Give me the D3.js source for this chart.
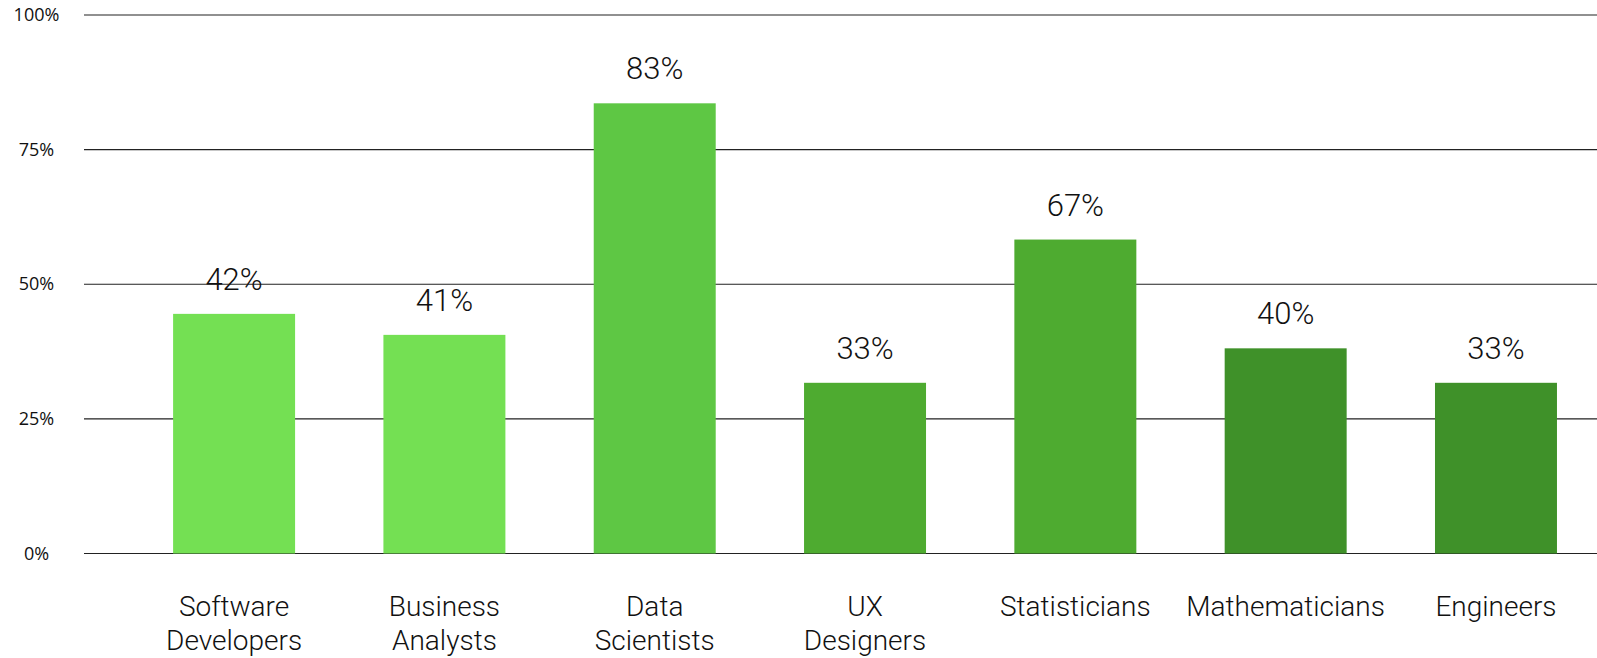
<!DOCTYPE html>
<html>
<head>
<meta charset="utf-8">
<script src="https://cdn.jsdelivr.net/npm/d3@7"></script>
<style>
  body { margin: 0; background: #fff; }
  #chart text { fill: #111; }
</style>
</head>
<body>
<div id="chart"></div>
<script>
let categories = ['Software Developers', 'Business Analysts', 'Data Scientists', 'UX Designers',
  'Statisticians', 'Mathematicians', 'Engineers'];
// bar heights as drawn (percent)
let barValues = [44.5, 40.6, 83.6, 31.7, 58.3, 38.1, 31.7];
// value printed above each bar
let labelValues = [42, 41, 83, 33, 67, 40, 33];
let barColors = ['#74e053', '#74e053', '#5ec744', '#4eab30', '#4eab30', '#3f9129', '#3f9129'];
let yTicks = [0, 25, 50, 75, 100];

let width = 1597;
let height = 658;

let svg = d3.select('#chart')
  .append('svg')
  .attr('width', width)
  .attr('height', height);

let x = d3.scaleBand()
  .domain(categories)
  .range([84, width])
  .paddingInner(0.42)
  .paddingOuter(0.307)
  .align(0.69);

let y = d3.scaleLinear()
  .domain([0, 100])
  .range([553.5, 15]);

// grid lines + tick labels
let grid = svg.append('g')
  .selectAll('g')
  .data(yTicks)
  .enter()
  .append('g')
  .attr('transform', d => 'translate(0,' + y(d) + ')');

grid.append('line')
  .attr('x1', 84)
  .attr('x2', width)
  .attr('stroke', '#222')
  .attr('stroke-width', 1.2);

grid.append('text')
  .attr('x', 36.5)
  .attr('y', 6)
  .attr('text-anchor', 'middle')
  .style('font-family', '"Open Sans", sans-serif')
  .style('font-size', '18px')
  .text(d => d + '%');

// bars
svg.append('g')
  .selectAll('rect')
  .data(categories)
  .enter()
  .append('rect')
  .attr('x', d => x(d))
  .attr('width', x.bandwidth())
  .attr('y', (d, i) => y(barValues[i]))
  .attr('height', (d, i) => y(0) - y(barValues[i]))
  .attr('fill', (d, i) => barColors[i]);

// value labels
svg.append('g')
  .selectAll('text')
  .data(categories)
  .enter()
  .append('text')
  .attr('x', d => x(d) + x.bandwidth() / 2)
  .attr('y', (d, i) => y(barValues[i]) - 24)
  .attr('text-anchor', 'middle')
  .style('font-family', 'Roboto, sans-serif')
  .style('font-weight', 300)
  .style('font-size', '31px')
  .text((d, i) => labelValues[i] + '%');

// category labels, one word per line
let cat = svg.append('g')
  .selectAll('text')
  .data(categories)
  .enter()
  .append('text')
  .attr('x', d => x(d) + x.bandwidth() / 2)
  .attr('y', 616)
  .attr('text-anchor', 'middle')
  .style('font-family', 'Roboto, sans-serif')
  .style('font-weight', 300)
  .style('font-size', '28px');

cat.selectAll('tspan')
  .data(d => d.split(' '))
  .enter()
  .append('tspan')
  .attr('x', function() { return d3.select(this.parentNode).attr('x'); })
  .attr('dy', (d, i) => i === 0 ? 0 : 34)
  .text(d => d);
</script>
</body>
</html>
